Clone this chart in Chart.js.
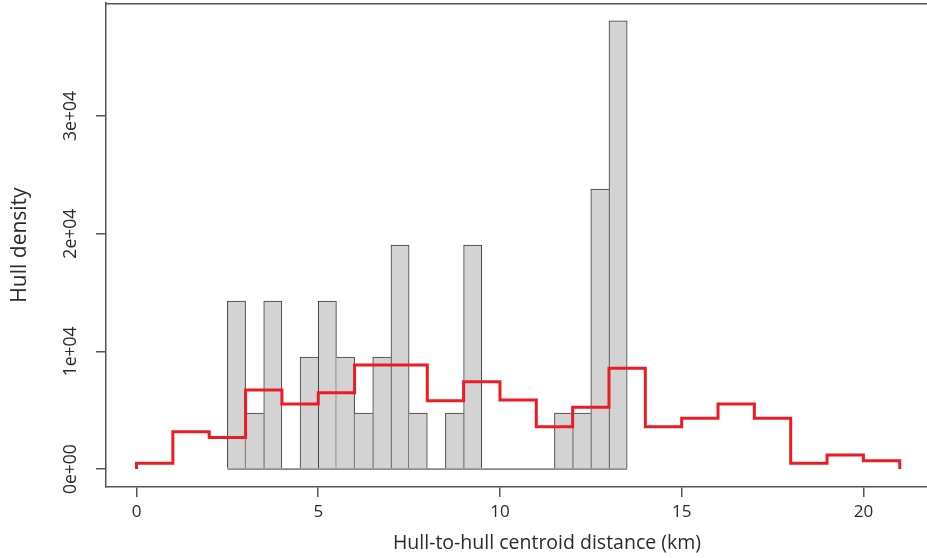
<!DOCTYPE html>
<html><head><meta charset="utf-8">
<script src="https://cdn.jsdelivr.net/npm/chart.js@4"></script>
<style>html,body{margin:0;padding:0;background:#fff}</style>
</head><body>
<canvas id="c" width="927" height="558"></canvas>
<script>
// Histogram (bin width 0.5 km) – bin midpoints and heights
const histMids = [2.75,3.25,3.75,4.25,4.75,5.25,5.75,6.25,6.75,7.25,7.75,8.25,8.75,9.25,9.75,10.25,10.75,11.25,11.75,12.25,12.75,13.25];
const histValues = [14280,4760,14280,0,9520,14280,9520,4760,9520,19040,4760,0,4760,19040,0,0,0,0,4760,4760,23800,38080];
const histRange = [2.5, 13.5];
// Red step density (bin width 1 km)
const densityBreaks = [0,1,2,3,4,5,6,7,8,9,10,11,12,13,14,15,16,17,18,19,20,21];
const densityValues = [490,3170,2690,6720,5530,6490,8840,8840,5810,7430,5870,3600,5250,8560,3600,4320,5530,4320,490,1200,710];
// Axes
const xTicks = [0,5,10,15,20];
const yTicks = [0,10000,20000,30000];
const yTickLabels = ['0e+00','1e+04','2e+04','3e+04'];
const xTitle = 'Hull-to-hull centroid distance (km)';
const yTitle = 'Hull density';

const FONT = "'Open Sans', 'DejaVu Sans', sans-serif";
Chart.defaults.font.family = FONT;

const barPoints = histMids.map((m, i) => ({x: m, y: histValues[i]}));
const stepPoints = [{x: densityBreaks[0], y: 0}];
densityValues.forEach((v, i) => {
  stepPoints.push({x: densityBreaks[i], y: v});
  stepPoints.push({x: densityBreaks[i + 1], y: v});
});
stepPoints.push({x: densityBreaks[densityBreaks.length - 1], y: 0});

function barBorder(ctx) {
  const i = ctx.dataIndex;
  const v = histValues[i];
  const prev = i > 0 ? histValues[i - 1] : 0;
  const next = i < histValues.length - 1 ? histValues[i + 1] : 0;
  if (v === 0) return 0;
  return {top: 1, bottom: 0, left: v >= prev ? 1 : 0, right: v > next ? 1 : 0};
}

const framePlugin = {
  id: 'frame',
  afterDraw(chart) {
    const {ctx, chartArea} = chart;
    ctx.save();
    ctx.strokeStyle = '#555';
    ctx.lineWidth = 1.5;
    ctx.beginPath();
    ctx.moveTo(chartArea.left, chartArea.top + 0.75);
    ctx.lineTo(chartArea.right, chartArea.top + 0.75);
    ctx.stroke();
    ctx.fillStyle = '#2a2a2a';
    ctx.font = "19.5px " + FONT;
    ctx.textAlign = 'center';
    ctx.textBaseline = 'middle';
    ctx.fillText(xTitle, 547, 543);
    ctx.restore();
  }
};

new Chart(document.getElementById('c'), {
  type: 'bar',
  data: {
    datasets: [
      {
        type: 'line',
        data: stepPoints,
        borderColor: '#ea1c24',
        borderWidth: 3,
        pointRadius: 0,
        fill: false,
        tension: 0,
        borderJoinStyle: 'miter',
        borderCapStyle: 'butt',
        order: 0
      },
      {
        type: 'line',
        data: [{x: histRange[0], y: 0}, {x: histRange[1], y: 0}],
        borderColor: '#3a3a3a',
        borderWidth: 1,
        pointRadius: 0,
        fill: false,
        order: 1
      },
      {
        type: 'bar',
        data: barPoints,
        backgroundColor: '#d3d3d3',
        borderColor: '#3a3a3a',
        borderWidth: barBorder,
        barPercentage: 1,
        categoryPercentage: 1,
        order: 2
      }
    ]
  },
  options: {
    responsive: false,
    animation: false,
    devicePixelRatio: 1,
    layout: {padding: {top: 3, right: 0, bottom: 0, left: 0}},
    plugins: {legend: {display: false}, tooltip: {enabled: false}},
    scales: {
      x: {
        type: 'linear',
        min: -0.84,
        max: 21.75,
        offset: false,
        afterBuildTicks: s => { s.ticks = xTicks.map(v => ({value: v})); },
        afterFit: s => { s.height = 71; s.paddingLeft = 0; s.paddingRight = 0; },
        ticks: {color: '#2a2a2a', font: {size: 17}, padding: 5, maxRotation: 0, minRotation: 0, autoSkip: false},
        grid: {drawOnChartArea: false, drawTicks: true, tickLength: 10, color: '#555', lineWidth: 1.5, offset: false},
        border: {display: true, color: '#555', width: 1.5}
      },
      y: {
        type: 'linear',
        min: -1523,
        max: 39603,
        afterBuildTicks: s => { s.ticks = yTicks.map(v => ({value: v})); },
        afterFit: s => { s.width = 106; s.paddingTop = 0; s.paddingBottom = 0; },
        ticks: {
          color: '#2a2a2a', font: {size: 17.5}, padding: 0,
          minRotation: 90, maxRotation: 90, crossAlign: 'center', autoSkip: false,
          callback: v => yTickLabels[yTicks.indexOf(v)]
        },
        grid: {drawOnChartArea: false, drawTicks: true, tickLength: 10, color: '#555', lineWidth: 1.5},
        border: {display: true, color: '#555', width: 1.5},
        title: {display: true, text: yTitle, color: '#2a2a2a', font: {size: 21}, padding: {top: 7, bottom: 0}}
      }
    }
  },
  plugins: [framePlugin]
});
</script>
</body></html>
